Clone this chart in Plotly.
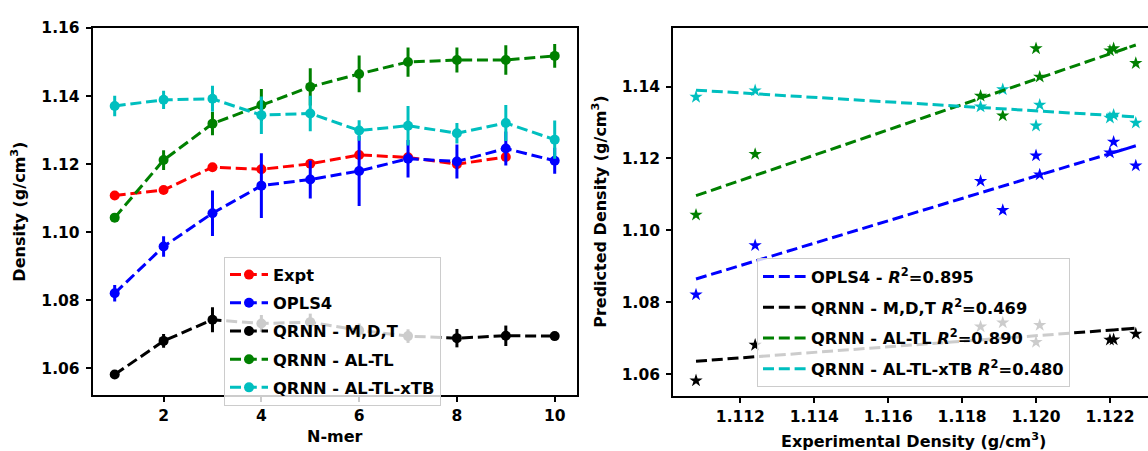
import numpy as np
import plotly.graph_objects as go

# ---------------- data ----------------
n_mer = [1, 2, 3, 4, 5, 6, 7, 8, 9, 10]
expt = [1.1108, 1.1124, 1.1191, 1.1185, 1.1201, 1.1227, 1.1220, 1.1200, 1.1221, None]

opls4 = [1.0821, 1.0958, 1.1056, 1.1137, 1.1155, 1.1180, 1.1216, 1.1208, 1.1246, 1.1210]
opls4_err = [0.0024, 0.0030, 0.0067, 0.0095, 0.0056, 0.0103, 0.0055, 0.0050, 0.0050, 0.0038]

qrnn_mdt = [1.0582, 1.0681, 1.0743, 1.0732, 1.0736, 1.0712, 1.0695, 1.0689, 1.0696, 1.0695]
qrnn_mdt_err = [0.0008, 0.0020, 0.0037, 0.0025, 0.0025, 0.0020, 0.0020, 0.0027, 0.0030, 0.0008]

qrnn_altl = [1.1043, 1.1212, 1.1319, 1.1374, 1.1427, 1.1465, 1.1500, 1.1506, 1.1506, 1.1518]
qrnn_altl_err = [0.0012, 0.0029, 0.0034, 0.0047, 0.0055, 0.0054, 0.0043, 0.0037, 0.0043, 0.0035]

qrnn_xtb = [1.1371, 1.1389, 1.1392, 1.1344, 1.1349, 1.1299, 1.1313, 1.1291, 1.1321, 1.1272]
qrnn_xtb_err = [0.0030, 0.0027, 0.0038, 0.0055, 0.0052, 0.0030, 0.0058, 0.0030, 0.0053, 0.0056]

series_names = ["OPLS4", "QRNN - M,D,T", "QRNN - AL-TL", "QRNN - AL-TL-xTB"]
fit_labels = ["OPLS4 - <i>R</i><sup>2</sup>=0.895",
              "QRNN - M,D,T <i>R</i><sup>2</sup>=0.469",
              "QRNN - AL-TL <i>R</i><sup>2</sup>=0.890",
              "QRNN - AL-TL-xTB <i>R</i><sup>2</sup>=0.480"]

left_yticks = [1.06, 1.08, 1.10, 1.12, 1.14, 1.16]
left_xticks = [2, 4, 6, 8, 10]
right_xticks = [1.112, 1.114, 1.116, 1.118, 1.120, 1.122]
right_yticks = [1.06, 1.08, 1.10, 1.12, 1.14]

# ---------------- style ----------------
W, H = 1148, 451
FONT = "DejaVu Sans"
colors = {"Expt": "#ff0000", "OPLS4": "#0000ff", "QRNN - M,D,T": "#000000",
          "QRNN - AL-TL": "#008000", "QRNN - AL-TL-xTB": "#00bfbf"}
DASH = "11px,4.8px"
LW = 3

def px_x(p):
    return p / W

def px_y(p):
    return 1 - p / H

fig = go.Figure()

# ---------------- left panel ----------------
fig.add_trace(go.Scatter(
    x=n_mer, y=expt, name="Expt", mode="lines+markers",
    line=dict(color=colors["Expt"], width=LW, dash=DASH),
    marker=dict(color=colors["Expt"], size=10, symbol="circle"),
    xaxis="x", yaxis="y", legend="legend", legendgroup="a0"))

series = [(series_names[0], opls4, opls4_err),
          (series_names[1], qrnn_mdt, qrnn_mdt_err),
          (series_names[2], qrnn_altl, qrnn_altl_err),
          (series_names[3], qrnn_xtb, qrnn_xtb_err)]

for i, (nm, vals, err) in enumerate(series):
    c = colors[nm]
    fig.add_trace(go.Scatter(
        x=n_mer, y=vals, name=nm, mode="lines+markers",
        line=dict(color=c, width=LW, dash=DASH),
        marker=dict(color=c, size=10, symbol="circle"),
        error_y=dict(type="data", array=err, visible=True, color=c,
                     thickness=3, width=0),
        xaxis="x", yaxis="y", legend="legend", legendgroup="a%d" % (i + 1)))

# ---------------- right panel ----------------
ex = np.array([v for v in expt if v is not None])
npts = len(ex)
for i, (nm, vals, err) in enumerate(series):
    c = colors[nm]
    fig.add_trace(go.Scatter(
        x=ex, y=vals[:npts], mode="markers", showlegend=False,
        marker=dict(color=c, size=10, symbol="star", line=dict(width=0)),
        xaxis="x2", yaxis="y2"))

for i, (nm, vals, err) in enumerate(series):
    c = colors[nm]
    y = np.array(vals[:npts])
    coef = np.polyfit(ex, y, 1)
    yfit = np.polyval(coef, ex)
    fig.add_trace(go.Scatter(
        x=ex, y=yfit, mode="lines", name=fit_labels[i],
        line=dict(color=c, width=LW, dash=DASH),
        xaxis="x2", yaxis="y2", legend="legend2", legendgroup="b%d" % i))

# ---------------- axes ----------------
tickfont = dict(family=FONT, size=15.5, color="black", weight="bold")
common = dict(showline=True, linecolor="black", linewidth=2, ticks="outside",
              ticklen=5, tickwidth=1.5, tickcolor="black", showgrid=False,
              zeroline=False, tickfont=tickfont)

fig.update_layout(
    width=W, height=H,
    margin=dict(l=0, r=0, t=0, b=0),
    paper_bgcolor="white", plot_bgcolor="white",
    font=dict(family=FONT, color="black"),
    xaxis=dict(domain=[px_x(92.7), px_x(576.7)], range=[0.55, 10.45],
               tickvals=left_xticks, mirror=True, anchor="y", ticklabelstandoff=0, **common),
    yaxis=dict(domain=[px_y(394), px_y(20)], range=[1.0522, 1.1601],
               tickvals=left_yticks, tickformat=".2f", mirror=True, anchor="x",
               ticklabelstandoff=3, **common),
    xaxis2=dict(domain=[px_x(673.1), 1.0], range=[1.11018, 1.12303],
                tickvals=right_xticks, tickformat=".3f", mirror=True, anchor="y2",
                ticklabelstandoff=0, **common),
    yaxis2=dict(domain=[px_y(395), px_y(20)], range=[1.0539, 1.1564],
                tickvals=right_yticks, tickformat=".2f", mirror=False, anchor="x2",
                ticklabelstandoff=3, **common),
    legend=dict(x=px_x(224), y=px_y(253), xanchor="left", yanchor="top",
                bgcolor="rgba(255,255,255,0.8)", bordercolor="#cccccc", borderwidth=1,
                font=dict(family=FONT, size=16.3, color="black", weight="bold"),
                traceorder="grouped", tracegroupgap=4, itemwidth=38),
    legend2=dict(x=px_x(757), y=px_y(255), xanchor="left", yanchor="top",
                 bgcolor="rgba(255,255,255,0.8)", bordercolor="#cccccc", borderwidth=1,
                 font=dict(family=FONT, size=16.3, color="black", weight="bold"),
                 traceorder="grouped", tracegroupgap=6.5, itemwidth=43),
)

title_font = dict(family=FONT, size=16, color="black", weight="bold")
annots = [
    dict(text="Density (g/cm<sup>3</sup>)", x=px_x(18.3), y=px_y(207), textangle=-90),
    dict(text="N-mer", x=px_x(334.7), y=px_y(436.7), textangle=0),
    dict(text="Predicted Density (g/cm<sup>3</sup>)", x=px_x(600), y=px_y(207.5), textangle=-90),
    dict(text="Experimental Density (g/cm<sup>3</sup>)", x=px_x(913.5), y=px_y(440), textangle=0),
]
for a in annots:
    fig.add_annotation(xref="paper", yref="paper", xanchor="center", yanchor="middle",
                       showarrow=False, font=title_font, **a)

fig.write_html("out.html")
